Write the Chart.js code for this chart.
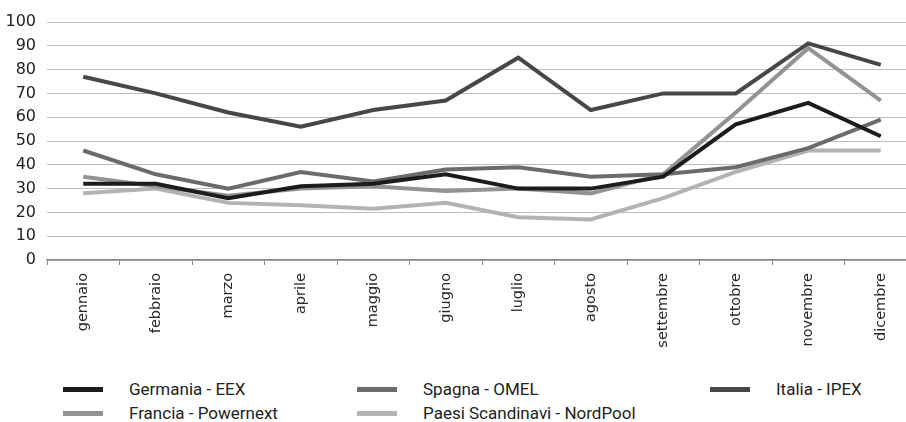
<!DOCTYPE html>
<html>
<head>
<meta charset="utf-8">
<script src="https://cdn.jsdelivr.net/npm/chart.js@4/dist/chart.umd.min.js"></script>
<style>
  html, body { margin: 0; padding: 0; background: #fff; overflow: hidden; width: 906px; height: 422px; }
  #wrap { position: relative; width: 918px; height: 365px; }
  #legend { position: absolute; left: 0; top: 378px; width: 906px; height: 44px;
    font-family: Roboto, sans-serif; font-size: 17px; color: #222; }
  .item { position: absolute; height: 22px; line-height: 22px; white-space: nowrap; }
  .swatch { position: absolute; left: 0; top: 9px; width: 40px; height: 5px; }
  .item span { position: absolute; left: 66px; top: 0; }
</style>
</head>
<body>
<div id="wrap"><canvas id="chart" width="918" height="365"></canvas></div>
<div id="legend"></div>
<script>
const months = ["gennaio", "febbraio", "marzo", "aprile", "maggio", "giugno",
  "luglio", "agosto", "settembre", "ottobre", "novembre", "dicembre"];

const germania = [32, 32, 26, 31, 32, 36, 30, 30, 35, 57, 66, 52];
const spagna = [46, 36, 30, 37, 33, 38, 39, 35, 36, 39, 47, 59];
const italia = [77, 70, 62, 56, 63, 67, 85, 63, 70, 70, 91, 82];
const francia = [35, 31, 27, 30, 31, 29, 30, 28, 36, 62, 89, 67];
const nordpool = [28, 30, 24, 23, 21.5, 24, 18, 17, 26, 37, 46, 46];

const yTicks = [0, 10, 20, 30, 40, 50, 60, 70, 80, 90, 100];

const series = [
  { label: "Germania - EEX", data: germania, color: "#1c1c1c", order: 1, pos: [63, 0] },
  { label: "Spagna - OMEL", data: spagna, color: "#6b6b6b", order: 2, pos: [357, 0] },
  { label: "Italia - IPEX", data: italia, color: "#474747", order: 0, pos: [710, 0] },
  { label: "Francia - Powernext", data: francia, color: "#939393", order: 3, pos: [63, 24] },
  { label: "Paesi Scandinavi - NordPool", data: nordpool, color: "#b3b3b3", order: 4, pos: [357, 24] }
];

new Chart(document.getElementById("chart"), {
  type: "line",
  data: {
    labels: months,
    datasets: series.map(s => ({
      label: s.label,
      data: s.data,
      borderColor: s.color,
      backgroundColor: s.color,
      borderWidth: 4,
      pointRadius: 0,
      tension: 0,
      order: s.order
    }))
  },
  options: {
    responsive: false,
    animation: false,
    layout: { padding: { top: 22, right: 1, left: 0, bottom: 0 } },
    plugins: { legend: { display: false }, tooltip: { enabled: false } },
    scales: {
      x: {
        offset: true,
        grid: { offset: true, drawOnChartArea: false, tickLength: 5, color: "#888" },
        border: { color: "#888", width: 1.5 },
        ticks: {
          minRotation: 90, maxRotation: 90, padding: 8,
          color: "#2a2a2a",
          font: { family: "DejaVu Sans", size: 14.5 }
        },
        afterFit: s => { s.height = 105; }
      },
      y: {
        min: 0, max: 100,
        afterBuildTicks: s => { s.ticks = yTicks.map(v => ({ value: v })); },
        grid: { drawTicks: false, color: "#bdbdbd", lineWidth: 1 },
        border: { display: false },
        ticks: {
          padding: 11,
          color: "#222",
          font: { family: "DejaVu Sans", size: 16 }
        },
        afterFit: s => { s.width = 47; }
      }
    }
  }
});

const legend = document.getElementById("legend");
series.forEach(s => {
  const it = document.createElement("div");
  it.className = "item";
  it.style.left = s.pos[0] + "px";
  it.style.top = s.pos[1] + "px";
  it.innerHTML = '<div class="swatch" style="background:' + s.color + '"></div><span>' + s.label + '</span>';
  legend.appendChild(it);
});
</script>
</body>
</html>
